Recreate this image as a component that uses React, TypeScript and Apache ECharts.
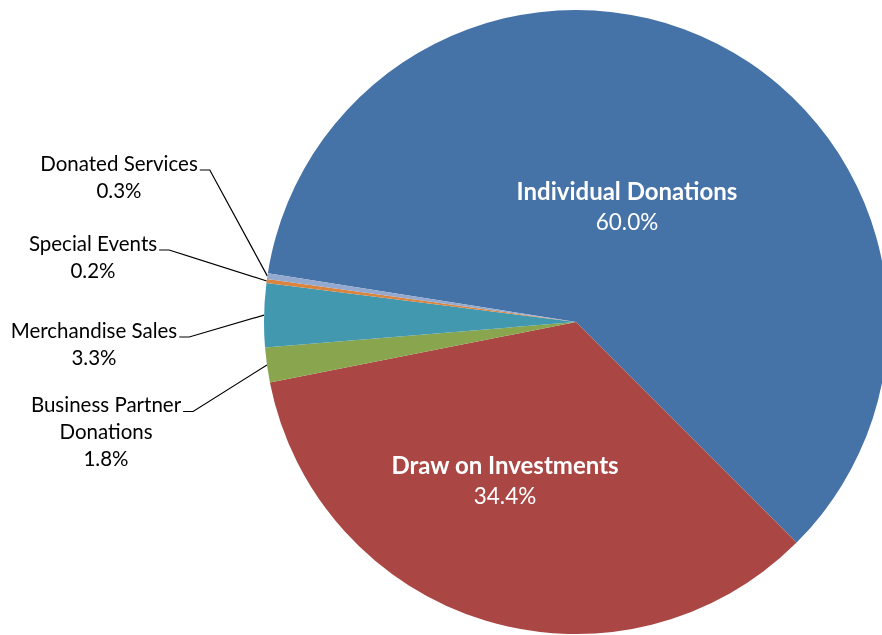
import React, { useEffect, useRef } from "react";
import * as echarts from "echarts";

const categories = [
  "Individual Donations",
  "Draw on Investments",
  "Business Partner Donations",
  "Merchandise Sales",
  "Special Events",
  "Donated Services",
];
const shares = [60.0, 34.4, 1.8, 3.3, 0.2, 0.3];
const colors = ["#4572A7", "#AA4643", "#89A54E", "#4198AF", "#DB843D", "#93A9CF"];
const insideLabel = [true, true, false, false, false, false];

// label block centers (layout only)
const labelPos: [number, number][] = [
  [627, 206],
  [505, 480],
  [106, 431],
  [94, 343],
  [93, 256],
  [119, 176],
];

const FONT = "Lato";

export default function App() {
  const ref = useRef<HTMLDivElement>(null);
  useEffect(() => {
    if (!ref.current) return;
    const chart = echarts.init(ref.current, undefined, { renderer: "svg" });
    const data = categories.map((name, i) => ({
      name,
      value: shares[i],
      itemStyle: { color: colors[i] },
      label: insideLabel[i]
        ? {
            position: "inside",
            formatter: (p: any) => `{b|${p.name}}\n{v|${p.value.toFixed(1)}%}`,
            rich: {
              b: { color: "#fff", fontWeight: "bold", fontSize: 24, fontFamily: FONT, lineHeight: 31, align: "center" },
              v: { color: "#fff", fontSize: 22.5, fontFamily: FONT, lineHeight: 31, align: "center" },
            },
          }
        : {
            position: "outside",
            formatter: (p: any) => {
              const n = p.name.length > 20 ? p.name.replace(/ (?=[^ ]*$)/, "\n") : p.name;
              return `${n}\n${p.value.toFixed(1)}%`;
            },
            color: "#000",
            fontSize: 20.5,
            fontFamily: FONT,
            lineHeight: 27,
            align: "center",
          },
      labelLine: { show: !insideLabel[i] },
    }));
    chart.setOption({
      animation: false,
      series: [
        {
          type: "pie",
          center: [576, 322],
          radius: 312,
          startAngle: 171,
          clockwise: true,
          silent: true,
          avoidLabelOverlap: false,
          itemStyle: { borderWidth: 0 },
          emphasis: { disabled: true },
          labelLine: { lineStyle: { color: "#000", width: 1.2 }, length: 10, length2: 10 },
          data,
          labelLayout: (p: any) => {
            const pos = labelPos[p.dataIndex];
            const w = p.labelRect.width;
            const h = p.labelRect.height;
            const res: any = { x: pos[0], y: pos[1], align: "center", verticalAlign: "middle" };
            if (!insideLabel[p.dataIndex] && p.labelLinePoints) {
              const start = p.labelLinePoints[0];
              const ax = pos[0] + w / 2 + 2;
              const ay = pos[1] - h / 2 + 21;
              res.labelLinePoints = [start, [ax + 10, ay], [ax, ay]];
            }
            return res;
          },
        },
      ],
    });
    return () => chart.dispose();
  }, []);
  return <div ref={ref} style={{ position: "fixed", left: 0, top: 0, width: 882, height: 635 }} />;
}
